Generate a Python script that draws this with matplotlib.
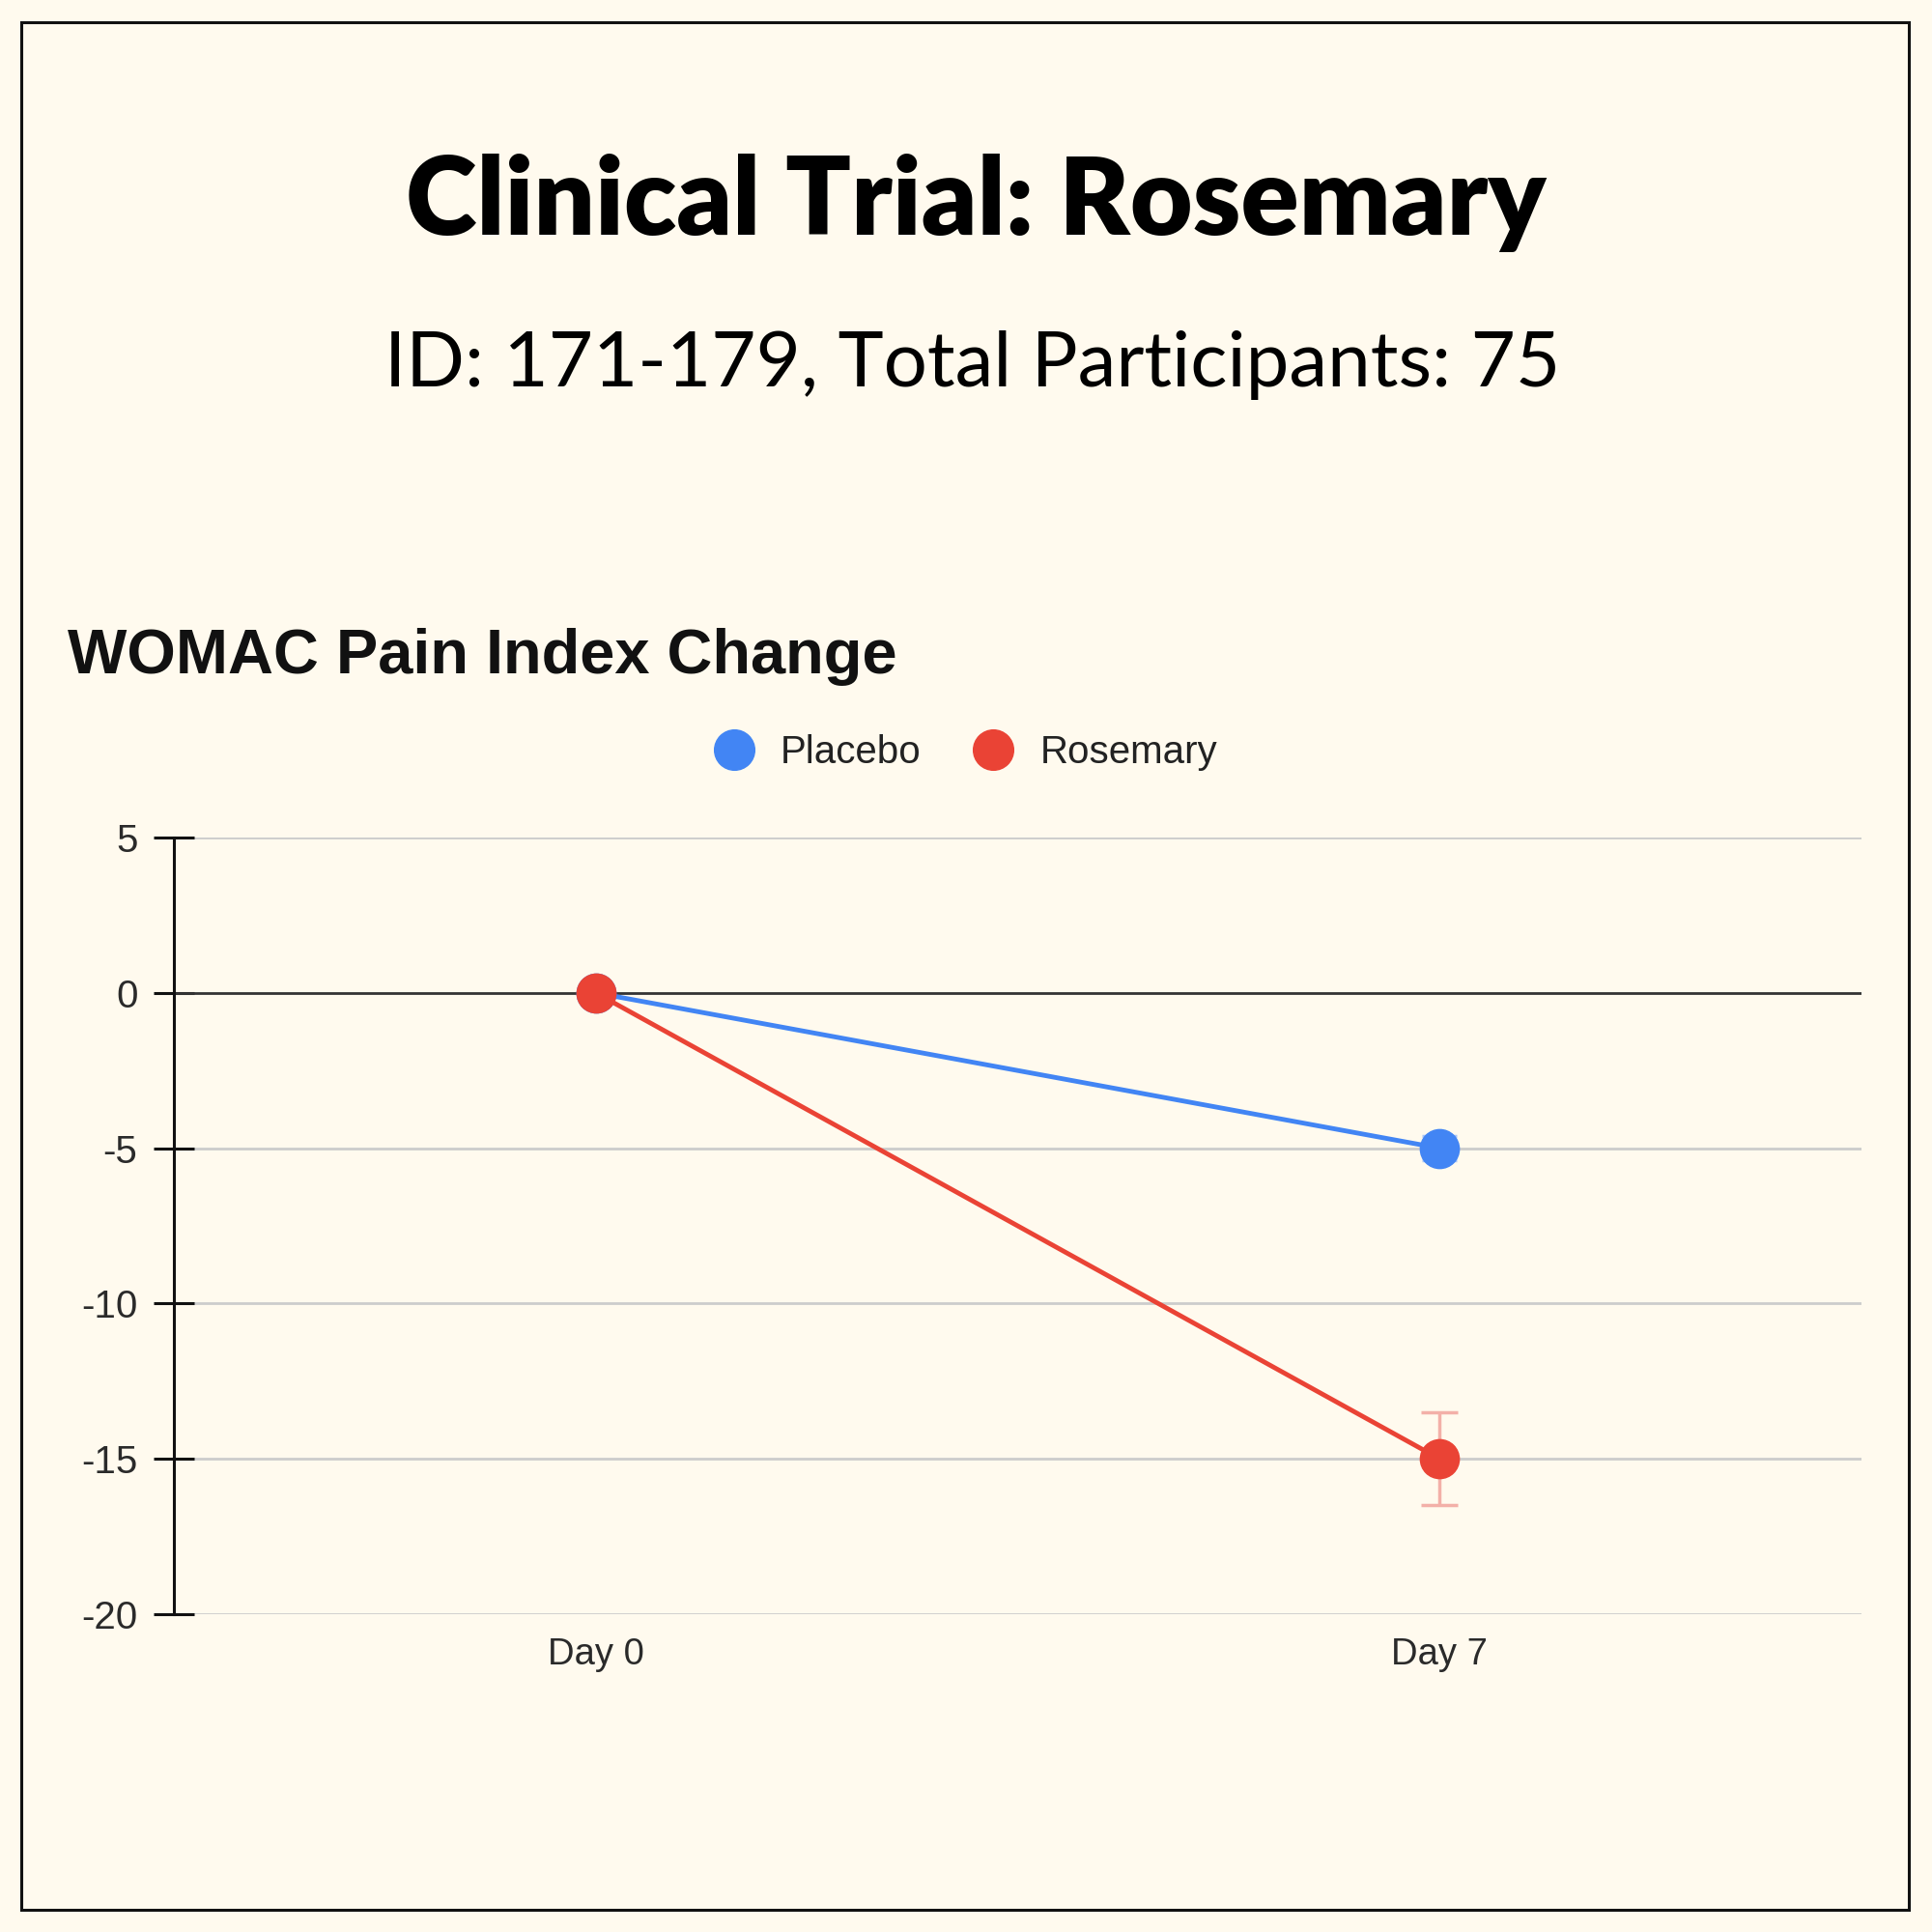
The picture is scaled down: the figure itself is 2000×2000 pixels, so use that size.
import matplotlib.pyplot as plt
from matplotlib.patches import Rectangle

# Data
days = ['Day 0', 'Day 7']
placebo = [0, -5]
placebo_err = [0, 0.4]
rosemary = [0, -15]
rosemary_err = [0, 1.5]
yticks = [5, 0, -5, -10, -15, -20]

blue = '#4285F4'
red = '#EA4335'
bg = '#FFFAEE'

fig = plt.figure(figsize=(20, 20), dpi=100, facecolor=bg)

# frame around the whole card
fig.patches.append(Rectangle((0.011, 0.0115), 0.977, 0.977, transform=fig.transFigure,
                             fill=False, edgecolor='#111111', linewidth=2.2))

fig.text(0.505, 0.895, 'Clinical Trial: Rosemary', ha='center', va='center',
         family='Lato', fontweight='heavy', fontsize=80.5, color='black')
fig.text(0.5035, 0.811, 'ID: 171-179, Total Participants: 75', ha='center', va='center',
         family='Lato', fontsize=57.5, color='black')
fig.text(0.035, 0.660, 'WOMAC Pain Index Change', ha='left', va='center',
         family='Liberation Sans', fontweight='bold', fontsize=46.8, color='#111111')

ax = fig.add_axes([0.09, 0.1645, 0.8735, 0.402])
ax.set_facecolor(bg)
x = range(len(days))

ax.errorbar(x, placebo, yerr=placebo_err, color=blue, lw=3.5, marker='o', ms=29,
            ecolor='#A9C6F7', elinewidth=2.5, capsize=13, capthick=2.5,
            label='Placebo', zorder=3)
ax.errorbar(x, rosemary, yerr=rosemary_err, color=red, lw=3.5, marker='o', ms=29,
            ecolor='#F3B0A8', elinewidth=2.5, capsize=14, capthick=2.5,
            label='Rosemary', zorder=4)

ax.set_xlim(-0.5, 1.5)
ax.set_ylim(-20, 5)
ax.set_xticks(list(x))
ax.set_xticklabels(days)
ax.set_yticks(yticks)
ax.set_yticklabels([str(v) for v in yticks])

for v in yticks:
    if v == 0:
        ax.axhline(v, color='#333333', lw=2, zorder=2)
    else:
        ax.axhline(v, color='#CCCCCC', lw=2, zorder=1)

for s in ['top', 'right', 'bottom']:
    ax.spines[s].set_visible(False)
ax.spines['left'].set_color('#111111')
ax.spines['left'].set_linewidth(2.2)

ax.tick_params(axis='y', direction='inout', length=30, width=2.2, color='#111111',
               labelsize=29, labelcolor='#2a2a2a', pad=12)
ax.tick_params(axis='x', length=0, labelsize=27.5, labelcolor='#2a2a2a', pad=17)
for lab in ax.get_xticklabels() + ax.get_yticklabels():
    lab.set_family('Liberation Sans')

handles = [plt.Line2D([], [], color=c, marker='o', ms=30, lw=0) for c in (blue, red)]
leg = fig.legend(handles, ['Placebo', 'Rosemary'], loc='center', bbox_to_anchor=(0.5, 0.6105),
                 ncol=2, frameon=False, handlelength=1.0, handletextpad=0.7,
                 columnspacing=1.35, prop={'family': 'Liberation Sans', 'size': 29})
for t in leg.get_texts():
    t.set_color('#222222')

fig.savefig('out.png', dpi=100, facecolor=bg)
